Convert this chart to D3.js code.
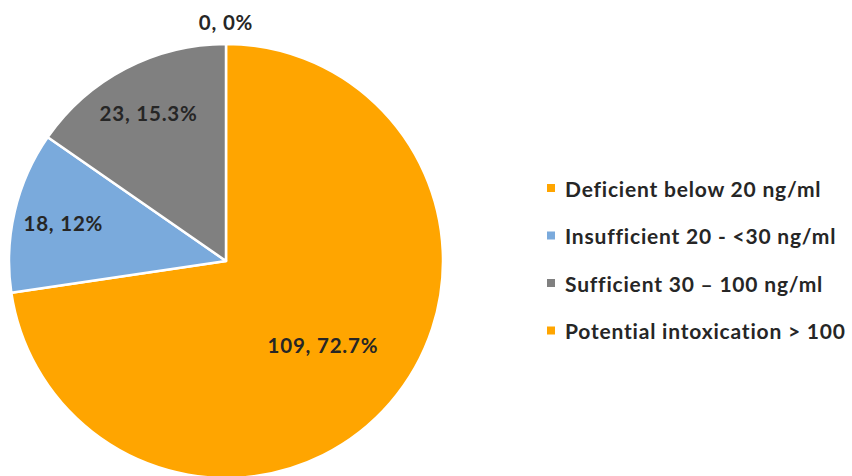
<!DOCTYPE html>
<html>
<head>
<meta charset="utf-8">
<script src="https://cdn.jsdelivr.net/npm/d3@7"></script>
<style>
  html, body { margin: 0; padding: 0; background: #fff; }
  svg { display: block; }
  text { font-family: Lato, "Open Sans", sans-serif; fill: #262626; }
</style>
</head>
<body>
<svg id="chart" width="852" height="476"></svg>
<script>
// Vitamin D status categories
const categories = [
  "Deficient below 20 ng/ml",
  "Insufficient 20 - <30 ng/ml",
  "Sufficient 30 \u2013 100 ng/ml",
  "Potential intoxication > 100"
];
const counts = [109, 18, 23, 0];
const percents = ["72.7%", "12%", "15.3%", "0%"];
const colors = ["#FFA500", "#7AAADC", "#808080", "#FFA500"];

const svg = d3.select("#chart");
const cx = 226, cy = 261, R = 217;

const data = categories.map((c, i) => ({ name: c, value: counts[i], pct: percents[i], color: colors[i] }));

const pie = d3.pie().value(d => d.value).sort(null);
const arcs = pie(data);
const arc = d3.arc().innerRadius(0).outerRadius(R);

const g = svg.append("g").attr("transform", `translate(${cx},${cy})`);

g.selectAll("path.slice")
  .data(arcs.filter(a => a.data.value > 0))
  .join("path")
  .attr("class", "slice")
  .attr("d", arc)
  .attr("fill", d => d.data.color)
  .attr("stroke", "#fff")
  .attr("stroke-width", 2.5)
  .attr("stroke-linejoin", "round");

// Data labels: large slice nearer the centre, small slices toward the rim,
// empty slice placed just outside the pie.
function labelPos(a) {
  if (a.data.value === 0) {
    return d3.arc().innerRadius(R + 22).outerRadius(R + 22).centroid(a);
  }
  const share = (a.endAngle - a.startAngle) / (2 * Math.PI);
  const r = share > 0.5 ? R * 0.59 : R * 0.77;
  return d3.arc().innerRadius(r).outerRadius(r).centroid(a);
}

g.selectAll("text.lbl")
  .data(arcs)
  .join("text")
  .attr("class", "lbl")
  .attr("transform", d => `translate(${labelPos(d)})`)
  .attr("text-anchor", "middle")
  .attr("dominant-baseline", "central")
  .attr("font-size", 20.5)
  .attr("letter-spacing", 0.8)
  .attr("font-weight", 700)
  .text(d => `${d.data.value}, ${d.data.pct}`);

// Legend
const legend = svg.append("g").attr("transform", "translate(547,188)");
const rows = legend.selectAll("g.row")
  .data(data)
  .join("g")
  .attr("class", "row")
  .attr("transform", (d, i) => `translate(0,${i * 47.5})`);

rows.append("rect")
  .attr("x", 0).attr("y", -4)
  .attr("width", 8).attr("height", 8)
  .attr("fill", d => d.color);

rows.append("text")
  .attr("x", 18)
  .attr("dominant-baseline", "central")
  .attr("font-size", 21)
  .attr("letter-spacing", 0.8)
  .attr("font-weight", 700)
  .text(d => d.name);
</script>
</body>
</html>
